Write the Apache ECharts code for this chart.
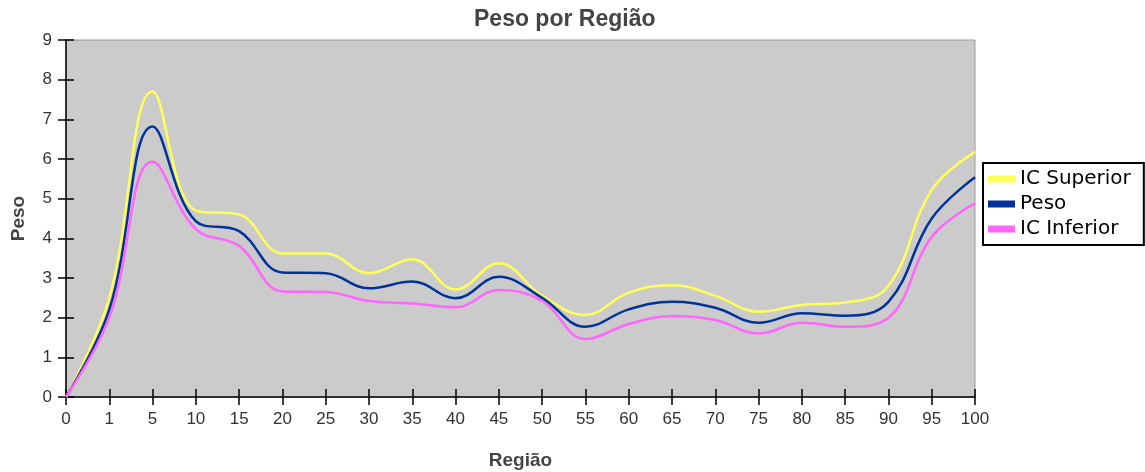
<!DOCTYPE html>
<html>
<head>
<meta charset="utf-8">
<script src="https://cdn.jsdelivr.net/npm/echarts@6/dist/echarts.min.js"></script>
<style>
html,body{margin:0;padding:0;background:#fff;}
#chart{width:1145px;height:472px;}
</style>
</head>
<body>
<div id="chart"></div>
<script>
var categories = ['0','1','5','10','15','20','25','30','35','40','45','50','55','60','65','70','75','80','85','90','95','100'];
var icSuperior = [0, 2.5, 7.7, 4.7, 4.6, 3.62, 3.62, 3.12, 3.47, 2.71, 3.37, 2.55, 2.07, 2.63, 2.82, 2.55, 2.15, 2.32, 2.38, 2.8, 5.22, 6.18];
var peso       = [0, 2.2, 6.82, 4.43, 4.18, 3.14, 3.12, 2.74, 2.91, 2.49, 3.03, 2.5, 1.77, 2.21, 2.4, 2.25, 1.87, 2.11, 2.05, 2.4, 4.5, 5.54];
var icInferior = [0, 2.0, 5.93, 4.23, 3.81, 2.66, 2.65, 2.42, 2.36, 2.26, 2.7, 2.42, 1.46, 1.84, 2.04, 1.94, 1.6, 1.87, 1.77, 2.0, 4.04, 4.88];
var yTicks = ['0','1','2','3','4','5','6','7','8','9'];

var chart = echarts.init(document.getElementById('chart'), null, {renderer: 'canvas'});
var labelFont = {color: '#333', fontSize: 17, fontFamily: 'Liberation Sans, Arial, sans-serif'};
var nameFont = {color: '#444', fontSize: 19, fontWeight: 'bold', fontFamily: 'Liberation Sans, Arial, sans-serif'};

function mkSeries(name, data, color) {
  return {
    name: name, type: 'line', data: data, smooth: 0.4,
    showSymbol: false, symbol: 'none',
    lineStyle: {color: color, width: 2.5},
    itemStyle: {color: color}
  };
}

chart.setOption({
  animation: false,
  backgroundColor: '#ffffff',
  title: {
    text: 'Peso por Região',
    left: 469, top: 3,
    textStyle: {color: '#444', fontSize: 23, fontWeight: 'bold', fontFamily: 'Liberation Sans, Arial, sans-serif'}
  },
  legend: {
    orient: 'vertical',
    left: 983, top: 163,
    padding: [6, 13, 6, 5],
    itemGap: 5,
    itemWidth: 27, itemHeight: 7,
    icon: 'rect',
    borderColor: '#000', borderWidth: 2,
    backgroundColor: '#fff',
    textStyle: {color: '#000', fontSize: 20, lineHeight: 20, fontFamily: 'DejaVu Sans, sans-serif'},
    data: ['IC Superior', 'Peso', 'IC Inferior']
  },
  grid: {
    left: 66, right: 170, top: 40, bottom: 75,
    show: true, backgroundColor: '#cbcbcb', borderColor: '#9a9a9a', borderWidth: 1,
    containLabel: false,
    outerBoundsMode: 'none'
  },
  xAxis: [{
    type: 'category', data: categories, boundaryGap: false,
    name: 'Região', nameLocation: 'middle', nameGap: 54, nameTextStyle: nameFont,
    axisLine: {show: true, lineStyle: {color: '#000', width: 1.5}},
    axisTick: {show: true, inside: false, length: 8, lineStyle: {color: '#000', width: 1.5}, alignWithLabel: true},
    axisLabel: Object.assign({interval: 0, margin: 14}, labelFont),
    splitLine: {show: false}
  }, {
    type: 'category', data: categories, boundaryGap: false, position: 'bottom',
    axisLine: {show: false},
    axisTick: {show: true, inside: true, length: 8, lineStyle: {color: '#000', width: 1.5}},
    axisLabel: {show: false},
    splitLine: {show: false}
  }],
  yAxis: [{
    type: 'value', min: 0, max: 9, interval: 1,
    name: 'Peso', nameLocation: 'middle', nameGap: 38, nameTextStyle: nameFont,
    axisLine: {show: true, lineStyle: {color: '#000', width: 1.5}},
    axisTick: {show: true, inside: false, length: 8, lineStyle: {color: '#000', width: 1.5}},
    axisLabel: Object.assign({margin: 14, formatter: function (v) { return yTicks[v] !== undefined ? yTicks[v] : v; }}, labelFont),
    splitLine: {show: false}
  }, {
    type: 'value', min: 0, max: 9, interval: 1, position: 'left',
    axisLine: {show: false},
    axisTick: {show: true, inside: true, length: 8, lineStyle: {color: '#000', width: 1.5}},
    axisLabel: {show: false},
    splitLine: {show: false}
  }],
  series: [
    mkSeries('IC Superior', icSuperior, '#ffff55'),
    mkSeries('Peso', peso, '#003399'),
    mkSeries('IC Inferior', icInferior, '#ff66ff')
  ]
});
</script>
</body>
</html>
